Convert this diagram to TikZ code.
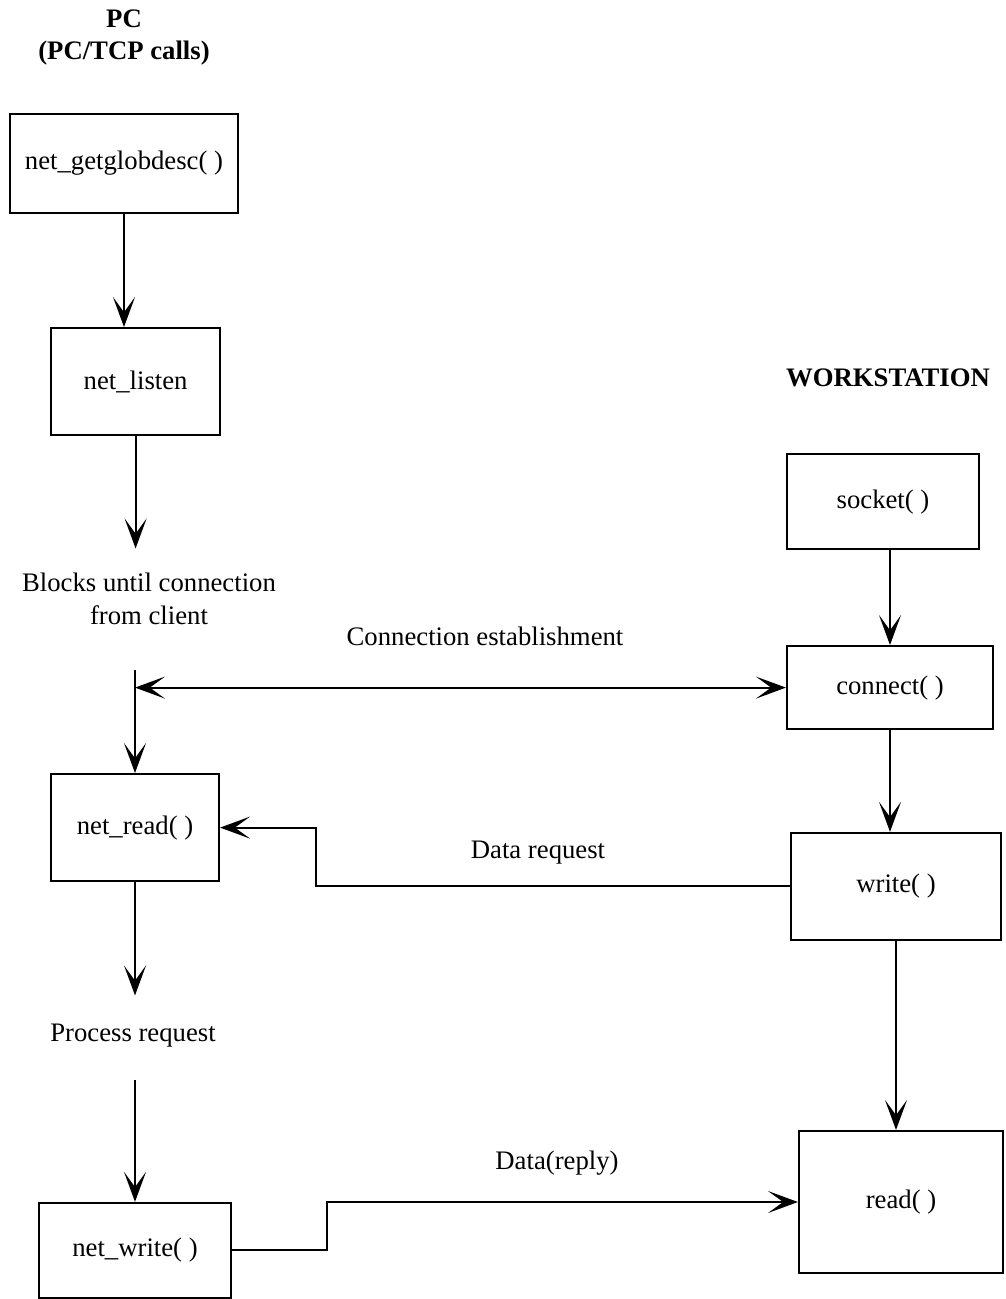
\documentclass[tikz,border=0pt]{standalone}
\usepackage{fontspec}
\setmainfont{Liberation Serif}
\usepackage{tikz}
\usetikzlibrary{arrows.meta}

\begin{document}
\begin{tikzpicture}[auto,scale=1.0,font=\fontsize{19}{23}\selectfont]
	\tikzstyle{box}=[rectangle,draw,line width=1.5pt,inner sep=0pt]
	\tikzstyle{title}=[font=\fontsize{19}{23}\selectfont\bfseries,align=center]
	\tikzstyle{note}=[align=center]
	\tikzstyle{flow}=[line width=1.5pt,-{Stealth[length=7.5mm,width=5.5mm,inset=3.8mm]}]
	\tikzstyle{both}=[line width=1.5pt,{Stealth[length=7.5mm,width=5.5mm,inset=3.8mm]}-{Stealth[length=7.5mm,width=5.5mm,inset=3.8mm]}]
	\useasboundingbox (0,0) rectangle (25.15,-32.475);
	% PC side
	\node (pc)       at (3.1,-0.94)    [title] {PC\\(PC/TCP calls)};
	\node (glob)     at (3.1,-4.09)    [box,minimum width=5.7cm,minimum height=2.475cm] {net\_getglobdesc( )};
	\node (listen)   at (3.39,-9.54)   [box,minimum width=4.225cm,minimum height=2.675cm] {net\_listen};
	\node (blocks)   at (3.725,-14.975) [note] {Blocks until connection\\from client};
	\node (netread)  at (3.375,-20.69) [box,minimum width=4.2cm,minimum height=2.675cm] {net\_read( )};
	\node (process)  at (3.325,-25.9)  [note] {Process request};
	\node (netwrite) at (3.375,-31.26) [box,minimum width=4.8cm,minimum height=2.375cm] {net\_write( )};
	% workstation side
	\node (ws)       at (22.2,-9.45)   [title] {WORKSTATION};
	\node (socket)   at (22.075,-12.54) [box,minimum width=4.8cm,minimum height=2.375cm] {socket( )};
	\node (connect)  at (22.25,-17.19) [box,minimum width=5.15cm,minimum height=2.075cm] {connect( )};
	\node (write)    at (22.4,-22.16)  [box,minimum width=5.25cm,minimum height=2.675cm] {write( )};
	\node (read)     at (22.525,-30.05) [box,minimum width=5.1cm,minimum height=3.55cm] {read( )};
	% messages between the two
	\node (estab)    at (12.125,-15.9) {Connection establishment};
	\node (dreqlbl)  at (13.45,-21.325) {Data request};
	\node (dreplbl)  at (13.925,-29.075) {Data(reply)};
	\coordinate (ctop)   at (3.375,-16.75);
	\coordinate (cjoin)  at (ctop |- connect.west);
	\coordinate (pstart) at (3.375,-27.0);
	\coordinate (dreq)   at (7.9,-21.0);
	\coordinate (drep)   at (8.175,-30.0);
	% PC flow
	\draw [flow] (glob.south) -- (glob.south |- listen.north);
	\draw [flow,shorten >=0.5cm] (listen.south) -- (listen.south |- blocks.north);
	\draw [flow] (ctop) -- (ctop |- netread.north);
	\draw [flow,shorten >=0.6cm] (netread.south) -- (netread.south |- process.north);
	\draw [flow] (pstart) -- (pstart |- netwrite.north);
	% workstation flow
	\draw [flow] (connect.north |- socket.south) -- (connect.north);
	\draw [flow] (connect.south) -- (connect.south |- write.north);
	\draw [flow] (write.south) -- (write.south |- read.north);
	% network traffic
	\draw [both] (cjoin) -- (connect.west);
	\draw [flow] (write.west) -- (write.west -| dreq) |- (netread.east);
	\draw [flow] (netwrite.east) -- (netwrite.east -| drep) |- (read.west);
\end{tikzpicture}
\end{document}
